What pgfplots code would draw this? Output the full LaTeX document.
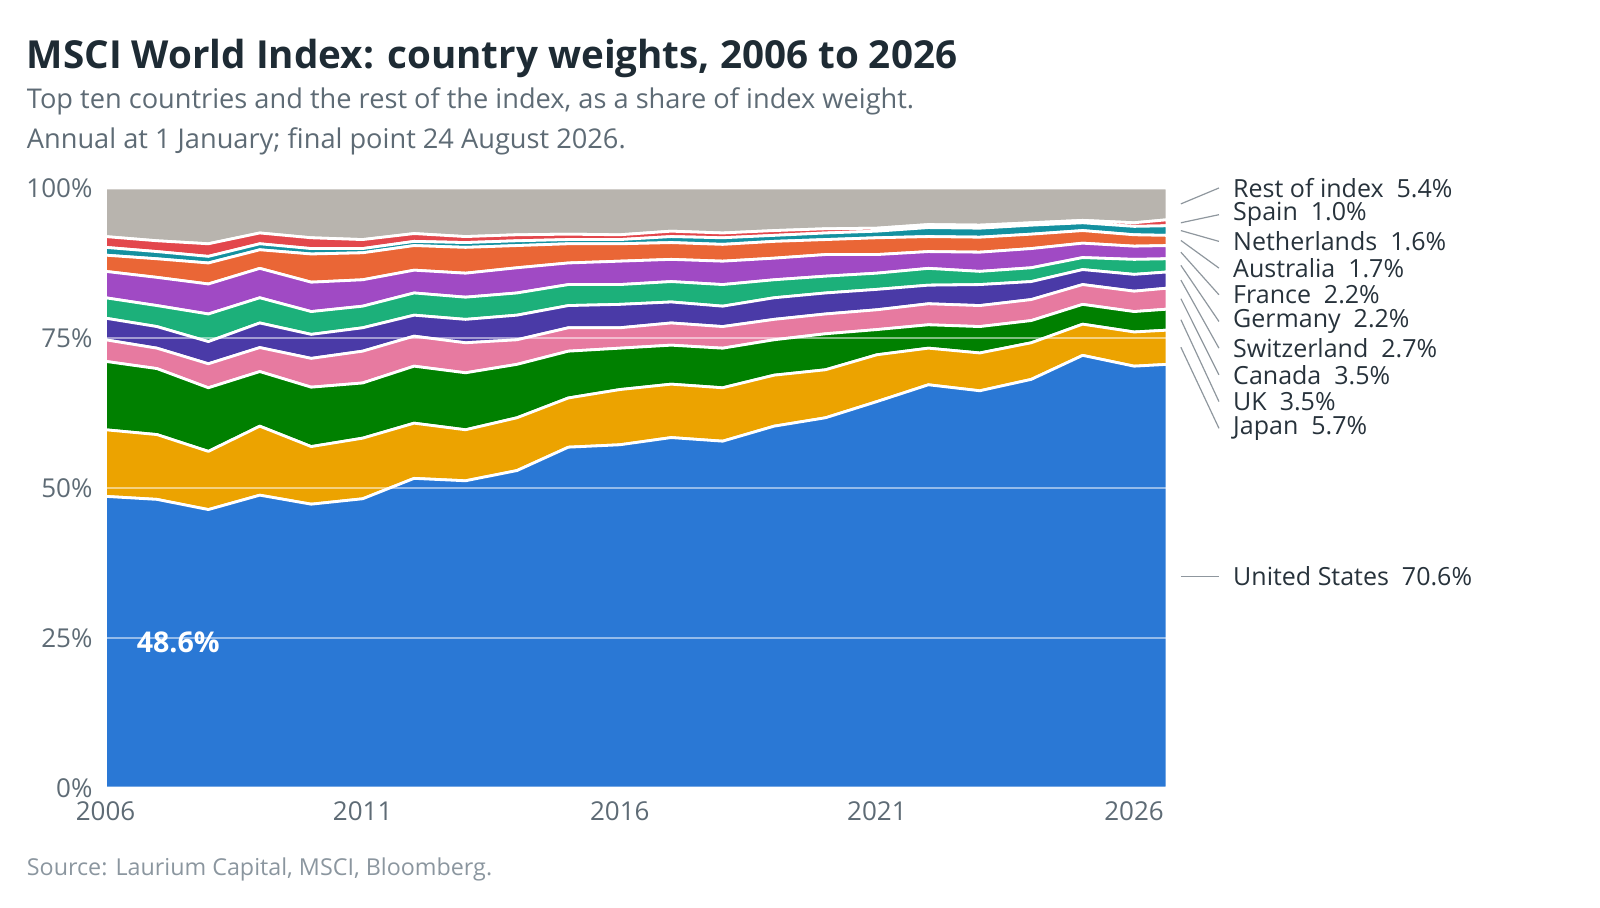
\documentclass[border=0pt]{standalone}
\usepackage{fontspec}
\setmainfont{Open Sans}
\usepackage{pgfplots}
\pgfplotsset{compat=1.18}
\usepackage{pgfplotstable}

\definecolor{cUS}{HTML}{2A78D5}
\definecolor{cJP}{HTML}{ECA300}
\definecolor{cUK}{HTML}{008000}
\definecolor{cCA}{HTML}{E77AA0}
\definecolor{cCH}{HTML}{4A3AA7}
\definecolor{cDE}{HTML}{1CB07A}
\definecolor{cFR}{HTML}{A04AC4}
\definecolor{cAU}{HTML}{EA6636}
\definecolor{cNL}{HTML}{1491A0}
\definecolor{cES}{HTML}{E3474C}
\definecolor{cRE}{HTML}{B8B4AE}
\definecolor{titlecol}{HTML}{1E2B34}
\definecolor{subcol}{HTML}{5E6B75}
\definecolor{srccol}{HTML}{8B969F}
\definecolor{labcol}{HTML}{27323B}
\definecolor{leadcol}{HTML}{8F979E}

\tikzset{lead/.style={draw=leadcol, line width=0.6pt},
  rlab/.style={anchor=west, text=labcol, font=\fontsize{12.5}{15}\selectfont, inner sep=0pt},
  band/.style={draw=white, line width=1.4pt, line join=round, fill=#1}}

\pgfplotstableread{
year US JP UK CA CH DE FR AU NL ES RE
2006 48.6 11.1 11.4 3.6 3.6 3.4 4.4 2.7 1.3 1.8 8.1
2007 48.1 10.8 11.0 3.4 3.6 3.5 4.7 3.1 1.2 1.8 8.8
2008 46.4 9.7 10.6 4.0 3.7 4.6 5.0 3.5 1.1 2.1 9.3
2009 48.8 11.5 9.1 4.0 4.1 4.2 4.9 3.1 1.0 1.8 7.5
2010 47.3 9.6 9.9 4.8 4.0 3.8 4.9 4.7 0.9 1.8 8.3
2011 48.2 10.1 9.2 5.3 3.9 3.6 4.4 4.5 0.7 1.5 8.6
2012 51.6 9.2 9.5 5.0 3.5 3.7 3.8 4.1 0.7 1.3 7.6
2013 51.2 8.5 9.5 5.0 3.9 3.7 4.0 4.3 0.8 1.0 8.1
2014 52.9 8.8 8.9 4.1 4.1 3.7 4.2 3.7 0.8 1.0 7.8
2015 56.8 8.2 7.8 3.9 3.7 3.5 3.6 3.2 0.7 0.9 7.7
2016 57.2 9.2 6.9 3.4 3.9 3.3 3.9 2.9 0.7 0.8 7.8
2017 58.4 8.9 6.5 3.7 3.5 3.4 3.7 2.8 1.0 0.9 7.2
2018 57.8 8.9 6.6 3.6 3.4 3.6 3.9 2.8 1.1 0.8 7.5
2019 60.3 8.5 5.9 3.4 3.6 3.0 3.6 2.8 1.0 0.8 7.1
2020 61.7 8.0 6.0 3.3 3.5 2.8 3.6 2.5 1.1 0.7 6.8
2021 64.4 7.8 4.2 3.3 3.4 2.7 3.1 2.8 1.1 0.5 6.7
2022 67.2 6.1 3.9 3.5 3.1 2.8 2.8 2.5 1.5 0.5 6.1
2023 66.2 6.3 4.4 3.5 3.5 2.2 3.2 2.5 1.5 0.5 6.2
2024 68.1 6.1 3.7 3.5 3.0 2.3 3.2 2.4 1.5 0.4 5.8
2025 72.1 5.2 3.3 3.3 2.5 2.0 2.4 2.1 1.3 0.4 5.4
2026 70.3 5.7 3.4 3.4 2.8 2.5 2.2 1.9 1.4 0.6 5.8
2026.64 70.6 5.7 3.5 3.5 2.7 2.2 2.2 1.7 1.6 1.0 5.3
}\data

\begin{document}
\begin{tikzpicture}
\path[use as bounding box] (0,0) rectangle (800pt,454pt);
\node[anchor=base west, font=\bfseries\fontsize{19.3}{23}\selectfont, text=titlecol, inner sep=0pt] at (13.25pt,419.8pt) {MSCI World Index: country weights, 2006 to 2026};
\node[anchor=base west, font=\fontsize{13.6}{16}\selectfont, text=subcol, inner sep=0pt] at (13.25pt,399.9pt) {Top ten countries and the rest of the index, as a share of index weight.};
\node[anchor=base west, font=\fontsize{13.6}{16}\selectfont, text=subcol, inner sep=0pt] at (13.25pt,379.5pt) {Annual at 1 January; final point 24 August 2026.};
\node[anchor=base west, font=\fontsize{11.65}{14}\selectfont, text=srccol, inner sep=0pt] at (13.25pt,16.3pt) {Source: Laurium Capital, MSCI, Bloomberg.};
\begin{axis}[
  at={(52.75pt,60pt)}, anchor=south west,
  scale only axis, width=530.75pt, height=300pt,
  xmin=2006, xmax=2026.64, ymin=0, ymax=100,
  stack plots=y, clip=false,
  axis on top,
  axis line style={draw=none},
  xtick={2006,2011,2016,2021,2026}, xticklabels={2006,2011,2016,2021,2026},
  ytick={0,25,50,75,100}, yticklabels={0\%,25\%,50\%,75\%,100\%},
  major tick length=0pt,
  ymajorgrids, grid style={white, opacity=0.5, line width=0.9pt},
  tick label style={font=\fontsize{13}{15}\selectfont, text=subcol},
  xticklabel style={yshift=-3.5pt},
  yticklabel style={xshift=-3pt},
  after end axis/.code={
    \node[anchor=west, text=white, font=\bfseries\fontsize{14.3}{17}\selectfont, inner sep=0pt] at (axis cs:2006.6,24.3) {48.6\%};
  },
]
\addplot[band=cUS] table[x=year,y=US] {\data} \closedcycle;
\addplot[band=cJP] table[x=year,y=JP] {\data} \closedcycle;
\addplot[band=cUK] table[x=year,y=UK] {\data} \closedcycle;
\addplot[band=cCA] table[x=year,y=CA] {\data} \closedcycle;
\addplot[band=cCH] table[x=year,y=CH] {\data} \closedcycle;
\addplot[band=cDE] table[x=year,y=DE] {\data} \closedcycle;
\addplot[band=cFR] table[x=year,y=FR] {\data} \closedcycle;
\addplot[band=cAU] table[x=year,y=AU] {\data} \closedcycle;
\addplot[band=cNL] table[x=year,y=NL] {\data} \closedcycle;
\addplot[band=cES] table[x=year,y=ES] {\data} \closedcycle;
\addplot[band=cRE] table[x=year,y=RE] {\data} \closedcycle;

\draw[lead] (axis cs:2026.91,97.35) -- (axis cs:2027.65,100);
\draw[lead] (axis cs:2026.91,94.2) -- (axis cs:2027.65,95.55);
\draw[lead] (axis cs:2026.91,92.9) -- (axis cs:2027.65,91.1);
\draw[lead] (axis cs:2026.91,91.25) -- (axis cs:2027.65,86.65);
\draw[lead] (axis cs:2026.91,89.3) -- (axis cs:2027.65,82.2);
\draw[lead] (axis cs:2026.91,87.1) -- (axis cs:2027.65,77.75);
\draw[lead] (axis cs:2026.91,84.65) -- (axis cs:2027.65,73.3);
\draw[lead] (axis cs:2026.91,81.55) -- (axis cs:2027.65,68.85);
\draw[lead] (axis cs:2026.91,78.05) -- (axis cs:2027.65,64.4);
\draw[lead] (axis cs:2026.91,73.45) -- (axis cs:2027.65,59.95);
\draw[lead] (axis cs:2026.91,35.3) -- (axis cs:2027.65,35.3);

\node[rlab] at (axis cs:2027.92,100) {Rest of index\ \ 5.4\%};
\node[rlab] at (axis cs:2027.92,95.55) {Spain\ \ 1.0\%};
\node[rlab] at (axis cs:2027.92,91.1) {Netherlands\ \ 1.6\%};
\node[rlab] at (axis cs:2027.92,86.65) {Australia\ \ 1.7\%};
\node[rlab] at (axis cs:2027.92,82.2) {France\ \ 2.2\%};
\node[rlab] at (axis cs:2027.92,77.75) {Germany\ \ 2.2\%};
\node[rlab] at (axis cs:2027.92,73.3) {Switzerland\ \ 2.7\%};
\node[rlab] at (axis cs:2027.92,68.85) {Canada\ \ 3.5\%};
\node[rlab] at (axis cs:2027.92,64.4) {UK\ \ 3.5\%};
\node[rlab] at (axis cs:2027.92,59.95) {Japan\ \ 5.7\%};
\node[rlab] at (axis cs:2027.92,35.3) {United States\ \ 70.6\%};
\end{axis}
\end{tikzpicture}
\end{document}
